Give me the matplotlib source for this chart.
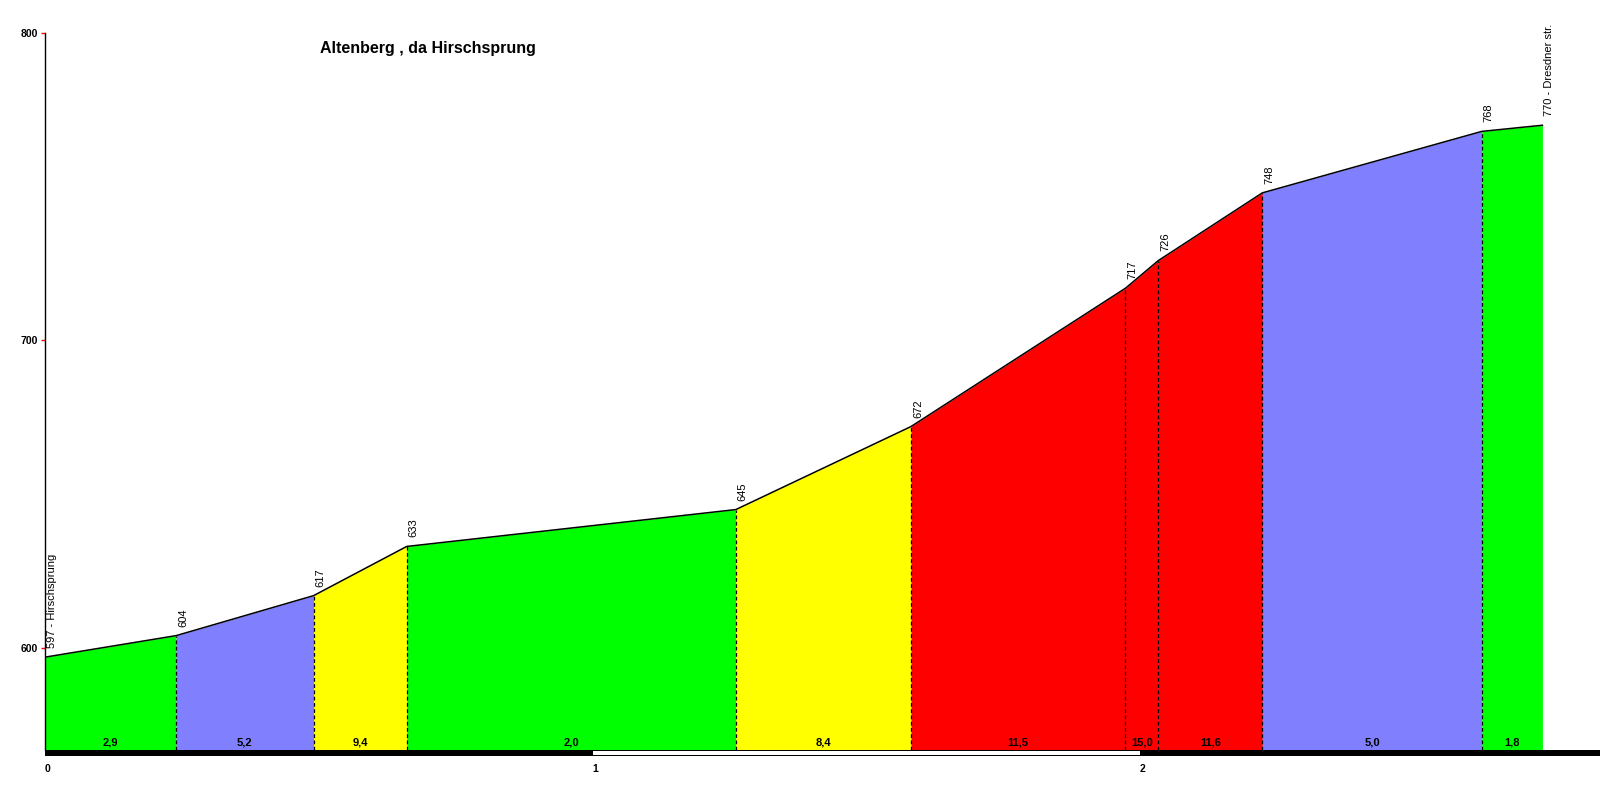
import matplotlib.pyplot as plt
from matplotlib.patches import Rectangle
import matplotlib.transforms as mtransforms

# profile data (km, m)
dist = [0, 0.2395, 0.4905, 0.6606, 1.2618, 1.5817, 1.9735, 2.0336, 2.2234, 2.6243, 2.735]
elev = [597, 604, 617, 633, 645, 672, 717, 726, 748, 768, 770]
point_labels = ["597 - Hirschsprung", "604", "617", "633", "645", "672", "717", "726",
                "748", "768", "770 - Dresdner str."]
grad_labels = ["2,9", "5,2", "9,4", "2,0", "8,4", "11,5", "15,0", "11,6", "5,0", "1,8"]
seg_colors = ["#00ff00", "#8080ff", "#ffff00", "#00ff00", "#ffff00",
              "#ff0000", "#ff0000", "#ff0000", "#8080ff", "#00ff00"]
y_ticks = [600, 700, 800]
km_ticks = [0, 1, 2]
title = "Altenberg , da Hirschsprung"

plt.rcParams['font.family'] = ['Liberation Sans', 'DejaVu Sans']

fig = plt.figure(figsize=(16, 8), dpi=100)
ax = fig.add_axes([45 / 1600, 50 / 800, 1555 / 1600, 717 / 800])
ymin = 566.8
ax.set_xlim(0, 1555 / 547.5)
ax.set_ylim(ymin, 800)

# coloured segments + gradient labels
for i in range(len(dist) - 1):
    xs = [dist[i], dist[i + 1]]
    ys = [elev[i], elev[i + 1]]
    ax.fill_between(xs, ys, ymin, color=seg_colors[i], linewidth=0, zorder=1)
    ax.text((dist[i] + dist[i + 1]) / 2, ymin + 2.3, grad_labels[i], ha='center',
            va='center', fontsize=8, fontweight='bold', zorder=5)

# dashed separators
for i in range(1, len(dist) - 1):
    ax.plot([dist[i], dist[i]], [ymin, elev[i]], color='black', lw=0.9,
            ls=(0, (3, 2)), zorder=3)

ax.plot(dist, elev, color='black', lw=1.1, zorder=4)

# elevation labels
for x, y, lab in zip(dist, elev, point_labels):
    ax.annotate(lab, (x, y), xytext=(5, 6.5), textcoords='offset points',
                rotation=90, ha='center', va='bottom', fontsize=8, zorder=5)

# km bar below the axes (black / white alternating)
trans = mtransforms.blended_transform_factory(ax.transData, ax.transAxes)
h = 6 / 717
ax.add_patch(Rectangle((0, -h), ax.get_xlim()[1], h, transform=trans,
                       facecolor='black', edgecolor='none', clip_on=False, zorder=6))
ax.add_patch(Rectangle((1, -h + 1 / 717), 1, h - 2 / 717, transform=trans,
                       facecolor='white', edgecolor='none', clip_on=False, zorder=7))
for k in km_ticks:
    ax.text(k, -19 / 717, str(k), transform=trans, ha='left', va='center',
            fontsize=7.5, fontweight='bold')

# axes styling
for s in ['top', 'right', 'bottom']:
    ax.spines[s].set_visible(False)
ax.spines['left'].set_linewidth(1)
ax.set_xticks([])
ax.set_yticks(y_ticks)
ax.set_yticklabels([str(t) for t in y_ticks], fontsize=7.5, fontweight='bold')
ax.tick_params(axis='y', colors='red', length=3, width=1, pad=2, labelcolor='black')

fig.text(320 / 1600, 1 - 48 / 800, title, ha='left', va='center',
         fontsize=11.5, fontweight='bold')

fig.savefig("out.png", dpi=100)
